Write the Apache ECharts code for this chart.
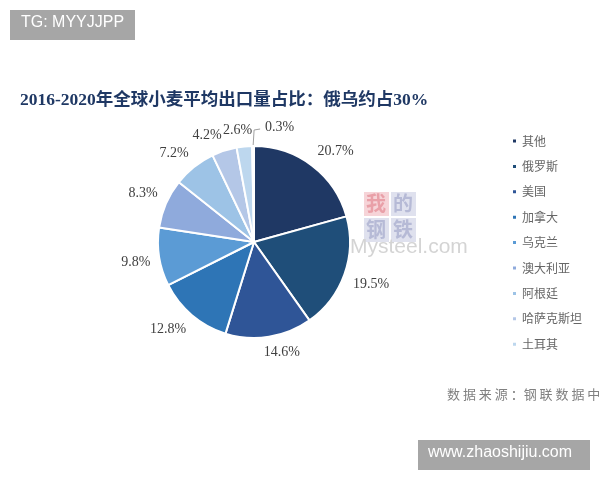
<!DOCTYPE html>
<html><head><meta charset="utf-8">
<script src="https://cdn.jsdelivr.net/npm/echarts@6/dist/echarts.min.js"></script>
<style>html,body{margin:0;padding:0;background:#fff}#c{width:600px;height:480px}</style>
</head><body><div id="c"></div>
<script>
const categories = ['其他','俄罗斯','美国','加拿大','乌克兰','澳大利亚','阿根廷','哈萨克斯坦','土耳其','其余'];
const values = [20.7,19.5,14.6,12.8,9.8,8.3,7.2,4.2,2.6,0.3];
const legendNames = ['其他','俄罗斯','美国','加拿大','乌克兰','澳大利亚','阿根廷','哈萨克斯坦','土耳其'];
const colors = ['#1f3864','#1f4e79','#2f5597','#2e75b6','#5b9bd5','#8faadc','#9dc3e6','#b4c7e7','#bdd7ee','#deebf7'];

const chart = echarts.init(document.getElementById('c'), null, {renderer:'canvas'});
const serif = '"Liberation Serif","Times New Roman","Noto Sans CJK SC",serif';
const LINE_LEN = 13;
const clamp1 = v => Math.min(1, Math.max(0, v));
chart.setOption({
  backgroundColor:'#fff',
  animation:false,
  color: colors,
  title:{
    text:'2016-2020年全球小麦平均出口量占比：俄乌约占30%',
    left:15, top:87,
    textStyle:{fontFamily:serif, fontWeight:'bold', fontSize:17.5, color:'#1f3864'}
  },
  legend:{
    orient:'vertical', left:506, top:130,
    data: legendNames,
    icon:'rect', itemWidth:5, itemHeight:5, itemGap:13.4,
    textStyle:{fontFamily:'"Noto Sans CJK SC",sans-serif', fontSize:12, color:'#666666'}
  },
  graphic:[
    {type:'rect', shape:{x:10,y:10,width:125,height:30}, style:{fill:'#a6a6a6'}},
    {type:'text', left:21, top:15, style:{text:'TG: MYYJJPP', fill:'#fff', font:'16px "Liberation Sans",Arial,sans-serif'}},
    {type:'rect', shape:{x:418,y:440,width:172,height:30}, style:{fill:'#a6a6a6'}},
    {type:'text', left:428, top:445, style:{text:'www.zhaoshijiu.com', fill:'#fff', font:'16px "Liberation Sans",Arial,sans-serif'}},
    {type:'text', left:447, top:388, style:{text:'数 据 来 源 ：钢 联 数 据 中 心', fill:'#808080', font:'13px "Noto Sans CJK SC",sans-serif'}},
    {type:'rect', z:-1, shape:{x:364,y:192,width:25,height:24}, style:{fill:'#f6d4d8'}},
    {type:'rect', z:-1, shape:{x:391,y:192,width:25,height:24}, style:{fill:'#dfe1ee'}},
    {type:'rect', z:-1, shape:{x:364,y:218,width:25,height:24}, style:{fill:'#dfe1ee'}},
    {type:'rect', z:-1, shape:{x:391,y:218,width:25,height:24}, style:{fill:'#dfe1ee'}},
    {type:'text', z:-1, left:366, top:193, style:{text:'我', fill:'#e9a0a8', font:'bold 20px "Noto Sans CJK SC",serif'}},
    {type:'text', z:-1, left:393, top:193, style:{text:'的', fill:'#b6bad6', font:'bold 20px "Noto Sans CJK SC",serif'}},
    {type:'text', z:-1, left:366, top:219, style:{text:'钢', fill:'#b6bad6', font:'bold 20px "Noto Sans CJK SC",serif'}},
    {type:'text', z:-1, left:393, top:219, style:{text:'铁', fill:'#b6bad6', font:'bold 20px "Noto Sans CJK SC",serif'}},
    {type:'text', z:-1, left:350, top:237, style:{text:'Mysteel.com', fill:'#d4d4d4', font:'21px "Liberation Sans",Arial,sans-serif'}}
  ],
  series:[{
    type:'pie',
    center:[254,242],
    radius:[0,96],
    startAngle:90,
    clockwise:true,
    avoidLabelOverlap:false,
    itemStyle:{borderColor:'#fff', borderWidth:2},
    label:{
      show:true, position:'outside',
      formatter: p => p.value.toFixed(1)+'%',
      fontFamily:serif, fontSize:14, color:'#404040', distanceToLabelLine:0
    },
    labelLine:{show:false, length:LINE_LEN, length2:0},
    labelLayout: function(p){
      const pts = p.labelLinePoints;
      if (!pts) return {hideOverlap:false};
      const a = pts[0], b = pts[1];
      if (p.dataIndex === 9) {
        return {
          x: a[0] + 12, y: a[1] - 19, align:'left', verticalAlign:'middle',
          labelLinePoints: [[a[0], a[1]], [a[0]+1, a[1]-16], [a[0]+7, a[1]-17]],
          hideOverlap:false
        };
      }
      const dx = (b[0]-a[0])/LINE_LEN, dy = (b[1]-a[1])/LINE_LEN;
      const ax = a[0] + dx*9, ay = a[1] + dy*9;
      const w = p.labelRect.width, h = p.labelRect.height;
      return {
        x: ax + Math.sign(dx)*w/2*clamp1(Math.abs(dx)*4),
        y: ay + Math.sign(dy)*h/2*clamp1(Math.abs(dy)*4),
        align:'center', verticalAlign:'middle',
        hideOverlap:false
      };
    },
    emphasis:{disabled:true},
    data: categories.map((n,i)=>({
      name:n, value:values[i],
      labelLine: i===9 ? {show:true, length:18, length2:6, lineStyle:{color:'#a0a0a0', width:1}} : undefined
    }))
  }]
});
</script></body></html>
